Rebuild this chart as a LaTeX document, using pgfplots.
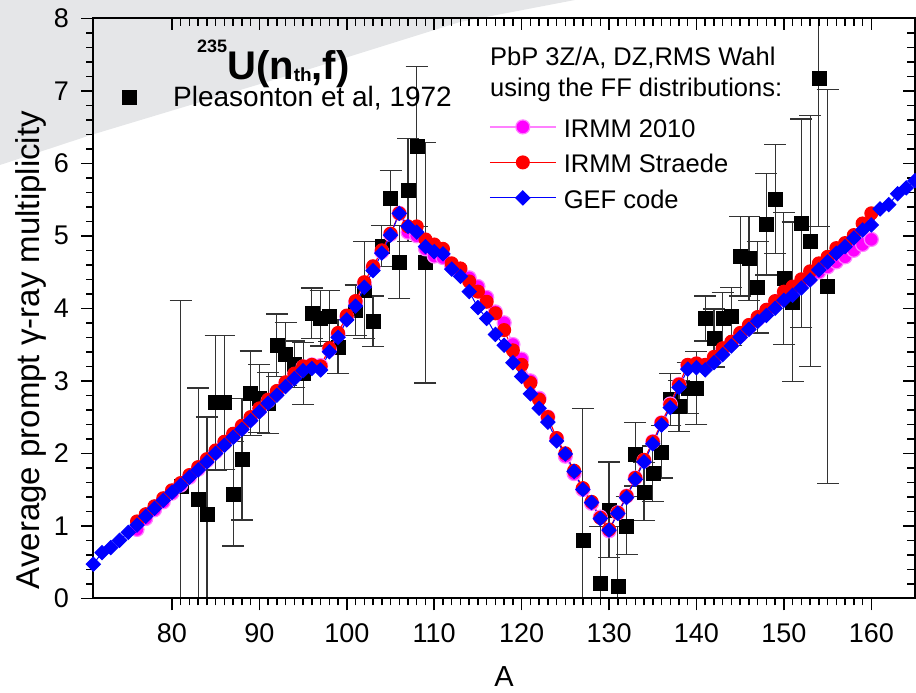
\documentclass[border=0pt]{standalone}
\usepackage{pgfplots}
\usepackage{pgfplotstable}
\pgfplotsset{compat=1.18}
\usepackage{fontspec}
\setmainfont{Liberation Sans}
\definecolor{bggray}{RGB}{229,230,232}
\definecolor{mag}{RGB}{255,0,255}
\definecolor{magline}{RGB}{255,128,255}
\definecolor{gefblue}{RGB}{0,0,255}
\definecolor{rd}{RGB}{255,0,0}

\pgfplotstableread{
A v e
81 1.54 2.57
83 1.36 1.54
84 1.16 1.34
85 2.70 0.93
86 2.70 0.92
87 1.44 0.72
88 1.92 0.84
89 2.83 0.58
90 2.76 0.47
91 2.69 0.42
92 3.49 0.43
93 3.37 0.43
94 3.23 0.32
95 3.10 0.43
96 3.93 0.35
97 3.86 0.38
98 3.89 0.35
99 3.47 0.37
101 3.97 0.35
102 4.25 0.67
103 3.82 0.35
104 4.86 0.28
105 5.52 0.38
106 4.64 0.50
107 5.63 0.71
108 6.23 1.10
109 4.63 1.66
127 0.80 1.82
129 0.21 0.78
130 1.22 0.66
131 0.17 0.82
132 1.00 0.40
133 1.99 0.44
134 1.47 0.40
135 1.72 0.38
136 2.02 0.36
137 2.74 0.36
138 2.65 0.35
139 2.90 0.35
140 2.90 0.50
141 3.86 0.31
142 3.59 0.40
143 3.86 0.36
144 3.89 0.40
145 4.72 0.55
146 4.69 0.58
147 4.29 0.63
148 5.16 0.70
149 5.51 0.75
150 4.41 0.91
151 4.09 1.10
152 5.17 1.44
153 4.93 1.73
154 7.17 2.04
155 4.30 2.72
}\pleas

\pgfplotstableread{
A v
76 0.95
77 1.10
78 1.22
79 1.33
80 1.45
81 1.56
82 1.67
83 1.78
84 1.90
85 2.02
86 2.14
87 2.25
88 2.36
89 2.48
90 2.60
91 2.72
92 2.84
93 2.96
94 3.08
95 3.19
96 3.22
97 3.21
98 3.43
99 3.64
100 3.88
101 4.08
102 4.34
103 4.56
104 4.78
105 5.02
106 5.31
107 5.05
108 5.00
109 4.82
110 4.72
111 4.70
112 4.58
113 4.50
114 4.42
115 4.30
116 4.15
117 3.95
118 3.80
119 3.50
120 3.30
121 3.00
122 2.76
123 2.50
124 2.20
125 1.96
126 1.72
127 1.50
128 1.31
129 1.12
130 0.93
131 1.18
132 1.41
133 1.66
134 1.90
135 2.16
136 2.42
137 2.68
138 2.95
139 3.21
140 3.23
141 3.21
142 3.30
143 3.42
144 3.52
145 3.63
146 3.74
147 3.85
148 3.96
149 4.07
150 4.18
151 4.25
152 4.33
153 4.42
154 4.50
155 4.57
156 4.64
157 4.71
158 4.80
159 4.88
160 4.95
}\irmm

\pgfplotstableread{
A v
76 1.06
77 1.16
78 1.27
79 1.38
80 1.49
81 1.59
82 1.70
83 1.81
84 1.92
85 2.04
86 2.16
87 2.27
88 2.38
89 2.50
90 2.62
91 2.74
92 2.86
93 2.98
94 3.10
95 3.20
96 3.22
97 3.20
98 3.45
99 3.66
100 3.90
101 4.10
102 4.36
103 4.58
104 4.80
105 5.03
106 5.31
107 5.13
108 5.13
109 4.95
110 4.88
111 4.82
112 4.62
113 4.55
114 4.37
115 4.23
116 4.09
117 3.93
118 3.70
119 3.42
120 3.22
121 2.97
122 2.74
123 2.50
124 2.21
125 2.00
126 1.76
127 1.52
128 1.33
129 1.11
130 0.95
131 1.18
132 1.41
133 1.66
134 1.91
135 2.16
136 2.42
137 2.67
138 2.95
139 3.22
140 3.24
141 3.22
142 3.33
143 3.45
144 3.54
145 3.66
146 3.77
147 3.88
148 3.98
149 4.10
150 4.23
151 4.30
152 4.40
153 4.51
154 4.62
155 4.71
156 4.83
157 4.90
158 5.01
159 5.17
160 5.31
}\straede

\pgfplotstableread{
A v
71 0.47
72 0.63
73 0.70
74 0.80
75 0.91
76 1.01
77 1.13
78 1.24
79 1.35
80 1.46
81 1.56
82 1.67
83 1.77
84 1.88
85 2.00
86 2.11
87 2.22
88 2.33
89 2.45
90 2.57
91 2.69
92 2.80
93 2.92
94 3.03
95 3.14
96 3.17
97 3.15
98 3.40
99 3.60
100 3.84
101 4.03
102 4.29
103 4.52
104 4.76
105 5.01
106 5.31
107 5.13
108 5.05
109 4.85
110 4.78
111 4.75
112 4.54
113 4.44
114 4.23
115 4.01
116 3.86
117 3.64
118 3.49
119 3.25
120 3.06
121 2.82
122 2.62
123 2.43
124 2.17
125 1.99
126 1.75
127 1.50
128 1.32
129 1.10
130 0.94
131 1.17
132 1.39
133 1.64
134 1.88
135 2.13
136 2.39
137 2.63
138 2.91
139 3.16
140 3.18
141 3.15
142 3.25
143 3.36
144 3.48
145 3.60
146 3.71
147 3.82
148 3.90
149 4.00
150 4.11
151 4.18
152 4.28
153 4.39
154 4.53
155 4.64
156 4.76
157 4.85
158 4.97
159 5.08
160 5.15
161 5.37
162 5.43
163 5.58
164 5.66
165 5.76
}\gef

\begin{document}
\begin{tikzpicture}[x=1bp,y=1bp]
\useasboundingbox (0,0) rectangle (916,693);
\fill[bggray] (0,693) -- (0,528) -- (91,558) -- (300,621) -- (460,671) -- (575,693) -- cycle;

\pgfplotsset{common/.style={scale only axis, width=821.7bp, height=580bp,
  at={(93.3bp,94.7bp)}, anchor=south west,
  xmin=71, xmax=165, ymin=0, ymax=8,
  xtick={80,90,...,160}, ytick={0,1,...,8},
  minor x tick num=9, minor y tick num=4,
  axis line style={line width=1.8bp},
  tick style={black, line width=1.5bp},
  major tick length=12bp, minor tick length=7bp}}

\begin{axis}[common, tick align=outside, xtick pos=left, ytick pos=left,
  ticklabel style={font=\fontsize{27bp}{30bp}\selectfont},
  xticklabel style={yshift=-10bp}, yticklabel style={xshift=-9bp},
  /pgf/number format/assume math mode=true,
  xlabel={A}, ylabel={Average prompt γ-ray multiplicity},
  xlabel style={font=\fontsize{29bp}{32bp}\selectfont, at={(axis description cs:0.5,-0.1357)}, anchor=center},
  ylabel style={font=\fontsize{33bp}{36bp}\selectfont, at={(axis description cs:-0.0758,0.428)}, anchor=center},
  legend style={at={(axis description cs:0.0349,0.8833)}, anchor=north west, draw=none, fill=none, inner sep=0pt,
    font=\fontsize{28bp}{30bp}\selectfont, nodes={inner sep=0pt, text height=20bp, text depth=2bp}},
  legend cell align=left,
  legend image code/.code={\path[draw=none,fill=none] (0bp,0bp) -- (51bp,0bp); \draw[#1] plot coordinates {(7bp,0bp)};}]
\addplot[only marks, mark=square*, mark size=7bp, black,
  error bars/.cd, y dir=both, y explicit,
  error bar style={line width=1.2bp, black!80},
  error mark options={rotate=90, mark size=11bp, line width=1.2bp, black!80}]
  table[x=A, y=v, y error=e] {\pleas};
\addlegendentry{Pleasonton et al, 1972}
\end{axis}

\begin{axis}[common, tick align=inside, xtick pos=right, ytick pos=right,
  xticklabel=\empty, yticklabel=\empty, minor tick length=8bp,
  legend style={at={(axis description cs:0.4816,0.8316)}, anchor=north west, draw=none, fill=none, inner sep=0pt,
    row sep=14bp, font=\fontsize{25.5bp}{28bp}\selectfont, nodes={inner sep=0pt, text height=21bp, text depth=0.5bp}},
  legend cell align=left,
  legend image code/.code={\path[draw=none,fill=none] (0bp,0bp) -- (74bp,0bp); \draw[#1, mark repeat=2, mark phase=2] plot coordinates {(0bp,0bp) (33bp,0bp) (66bp,0bp)};}]
\addplot[magline, line width=1.2bp, mark=*, mark size=7bp, mark options={draw=none, fill=mag}] table[x=A, y=v] {\irmm};
\addlegendentry{IRMM 2010}
\addplot[rd, line width=1bp, mark=*, mark size=6.5bp, mark options={draw=none, fill=rd}] table[x=A, y=v] {\straede};
\addlegendentry{IRMM Straede}
\addplot[gefblue, line width=1bp, mark=square*, mark size=5bp, mark options={rotate=45, draw=none, fill=gefblue}] table[x=A, y=v] {\gef};
\addlegendentry{GEF code}
\end{axis}

\node[anchor=base west, inner sep=0pt] at (197,613) {\bfseries\fontsize{18bp}{18bp}\selectfont\raisebox{27bp}{235}\fontsize{40bp}{40bp}\selectfont U(n\raisebox{-2bp}{\fontsize{19bp}{19bp}\selectfont th},f)};
\node[anchor=base west, inner sep=0pt, font=\fontsize{25.5bp}{28bp}\selectfont] at (490,627.5) {PbP 3Z/A, DZ,RMS Wahl};
\node[anchor=base west, inner sep=0pt, font=\fontsize{25.5bp}{28bp}\selectfont] at (490,596) {using the FF distributions:};
\end{tikzpicture}
\end{document}
